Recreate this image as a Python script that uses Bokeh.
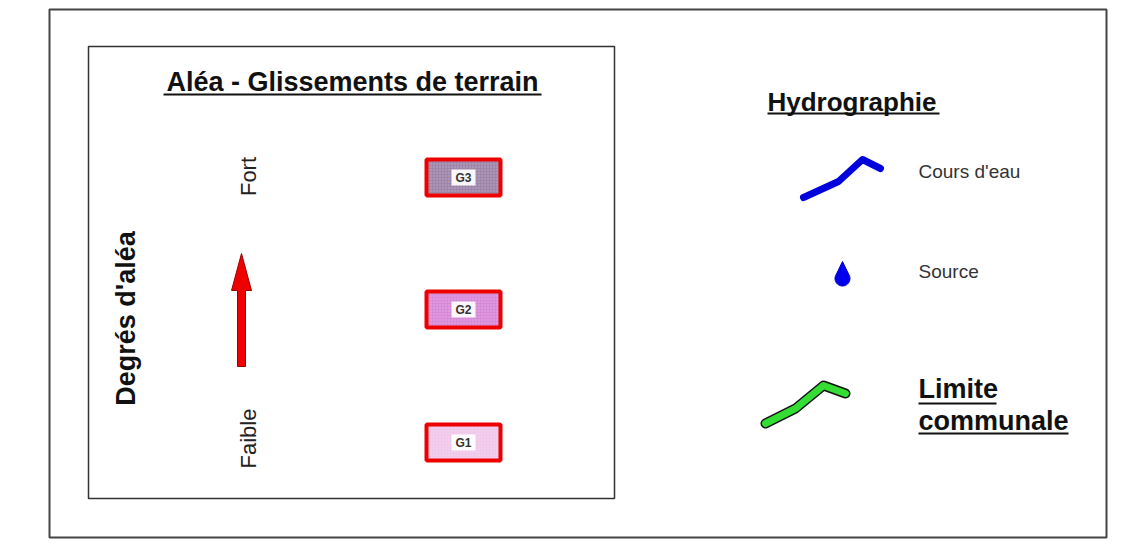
import numpy as np
from bokeh.plotting import figure
from bokeh.models import Range1d
from bokeh.core.properties import value
from bokeh.embed import file_html
from bokeh.resources import INLINE

# ---- content ----
title_main = "Aléa - Glissements de terrain"
title_axis = "Degrés d'aléa"
degree_labels = ["Fort", "Faible"]
alea_classes = ["G3", "G2", "G1"]
alea_fill = ["#9d86a9", "#d78ad9", "#f0c8ea"]
title_hydro = "Hydrographie"
hydro_labels = ["Cours d'eau", "Source"]
limite_lines = ["Limite", "communale"]
river_x = [803, 838, 862, 880]
river_y = [197, 181, 159, 168]
limit_x = [765, 795, 823, 845]
limit_y = [423, 408, 385, 393]

FONT = value("Liberation Sans")

p = figure(width=1120, height=540, x_range=Range1d(0, 1120), y_range=Range1d(540, 0),
           output_backend="svg", toolbar_location=None, min_border=0)
p.axis.visible = False
p.grid.visible = False
p.outline_line_color = None
p.background_fill_color = "white"

# frames
p.quad(left=[49], right=[1106], top=[9], bottom=[537], fill_color=None,
       line_color="#444444", line_width=2)
p.quad(left=[88], right=[614], top=[46], bottom=[498], fill_color=None,
       line_color="#333333", line_width=1.5)

# main title with underline
p.text(x=[352], y=[81], text=[title_main], text_font=FONT, text_font_style="bold",
       text_font_size="27px", text_align="center", text_baseline="middle",
       text_color="#111111")
p.segment(x0=[163], y0=[94], x1=[541], y1=[94], line_color="#111111", line_width=2)

# vertical axis title and degree labels
p.text(x=[125], y=[318], text=[title_axis], angle=np.pi / 2, text_font=FONT,
       text_font_style="bold", text_font_size="27px", text_align="center",
       text_baseline="middle", text_color="#111111")
p.text(x=[248, 248], y=[176, 438], text=degree_labels, angle=np.pi / 2, text_font=FONT,
       text_font_size="22px", text_align="center", text_baseline="middle",
       text_color="#222222")

# red arrow
ax = 241
p.patch(x=[ax - 4, ax + 4, ax + 4, ax + 10, ax, ax - 10, ax - 4],
        y=[366, 366, 290, 290, 253, 290, 290],
        fill_color="#ee0000", line_color="#990000", line_width=1)

# hazard boxes
box_y = [177, 309, 442]
p.rect(x=[463] * 3, y=box_y, width=74, height=36, fill_color=alea_fill,
       line_color="#ee0000", line_width=4,
       hatch_pattern="dot", hatch_color="white", hatch_alpha=0.35, hatch_scale=3)
p.rect(x=[463] * 3, y=box_y, width=24, height=16, fill_color="white",
       fill_alpha=0.92, line_color=None)
p.text(x=[463] * 3, y=box_y, text=alea_classes, text_font=FONT, text_font_style="bold",
       text_font_size="12px", text_align="center", text_baseline="middle",
       text_color="#333333")

# hydrography title
p.text(x=[767], y=[101], text=[title_hydro], text_font=FONT, text_font_style="bold",
       text_font_size="26px", text_align="left", text_baseline="middle",
       text_color="#111111")
p.segment(x0=[767], y0=[113], x1=[939], y1=[113], line_color="#111111", line_width=2)

# river
p.line(river_x, river_y, line_color="#0000dd", line_width=7, line_cap="round",
       line_join="round")
p.text(x=[918, 918], y=[171, 271], text=hydro_labels, text_font=FONT,
       text_font_size="19px", text_align="left", text_baseline="middle",
       text_color="#333333")

# source drop
cx, cy, r = 842, 278, 7.5
th = np.linspace(np.radians(35), np.radians(-215), 40)
dx = [cx] + list(cx + r * np.cos(th))
dy = [cy - 17] + list(cy - r * np.sin(th))
p.patch(x=dx, y=dy, fill_color="#0000ee", line_color="#0000cc", line_width=1)

# communal limit
p.line(limit_x, limit_y, line_color="#111111", line_width=10, line_cap="round",
       line_join="round")
p.line(limit_x, limit_y, line_color="#33dd33", line_width=7, line_cap="round",
       line_join="round")
p.text(x=[918, 918], y=[388, 420], text=limite_lines, text_font=FONT,
       text_font_style="bold", text_font_size="27px", text_align="left",
       text_baseline="middle", text_color="#111111")
p.segment(x0=[918, 918], y0=[403, 433], x1=[996, 1068], y1=[403, 433],
          line_color="#111111", line_width=2)

open("out.html", "w").write(file_html(p, INLINE))
